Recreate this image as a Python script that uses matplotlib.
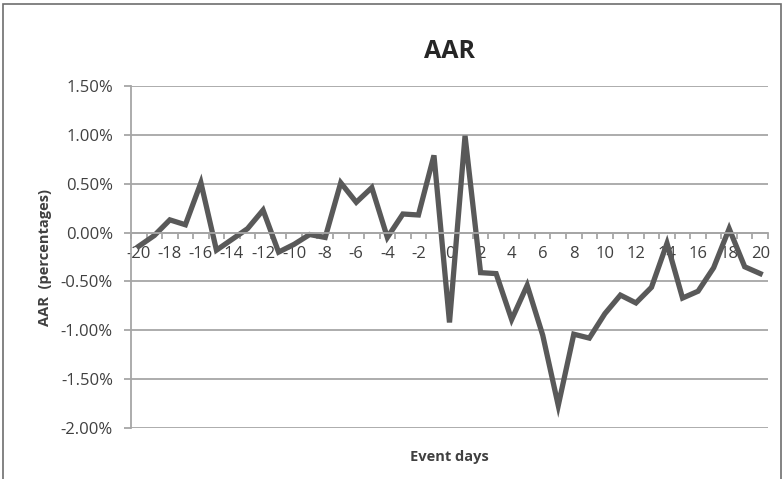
import matplotlib
matplotlib.use('Agg')
import matplotlib.pyplot as plt
from matplotlib.patches import Rectangle
from matplotlib.ticker import FixedLocator, FuncFormatter

days = list(range(-20, 21))
aar = [-0.14, -0.03, 0.13, 0.08, 0.51, -0.18, -0.07, 0.04, 0.23, -0.20,
       -0.12, -0.02, -0.05, 0.51, 0.31, 0.46, -0.05, 0.19, 0.18, 0.79,
       -0.92, 0.99, -0.41, -0.42, -0.89, -0.54, -1.05, -1.77, -1.04, -1.08,
       -0.83, -0.64, -0.72, -0.56, -0.11, -0.67, -0.60, -0.36, 0.04, -0.35,
       -0.42]
y_ticks = [-2.0, -1.5, -1.0, -0.5, 0.0, 0.5, 1.0, 1.5]
x_labels = list(range(-20, 21, 2))

plt.rcParams['font.family'] = ['Open Sans', 'DejaVu Sans']
grey = '#a6a6a6'
txt = '#404040'

fig = plt.figure(figsize=(7.83, 4.79), dpi=100)
ax = fig.add_axes([131/783, 1-428/479, (768-131)/783, (428-86)/479])

ax.plot(days, aar, color='#595959', linewidth=3.8, solid_joinstyle='miter')

ax.set_xlim(-20.5, 20.5)
ax.set_ylim(-2.0, 1.5)
ax.set_yticks(y_ticks)
ax.yaxis.set_major_formatter(FuncFormatter(lambda v, p: '%.2f%%' % v))
ax.yaxis.grid(True, color=grey, linewidth=1.3)
ax.set_axisbelow(True)

for s in ['top', 'right']:
    ax.spines[s].set_visible(False)
ax.spines['left'].set_color(grey)
ax.spines['left'].set_linewidth(1.3)
ax.spines['bottom'].set_position(('data', 0))
ax.spines['bottom'].set_color(grey)
ax.spines['bottom'].set_linewidth(1.3)

# ticks between categories, labels every 2 days
ax.xaxis.set_major_locator(FixedLocator([d + 0.5 for d in range(-21, 21)]))
ax.xaxis.set_major_formatter(FuncFormatter(lambda v, p: ''))
ax.xaxis.set_minor_locator(FixedLocator(x_labels))
ax.xaxis.set_minor_formatter(FuncFormatter(lambda v, p: '%d' % v))
ax.tick_params(axis='x', which='major', direction='out', length=4, width=1.3, color=grey)
ax.tick_params(axis='x', which='minor', length=0, pad=10, labelsize=12, labelcolor=txt)
ax.tick_params(axis='y', direction='out', length=5, width=1.3, color=grey, pad=8,
               labelsize=12, labelcolor=txt)

ax.set_xlabel('Event days', fontsize=10.5, fontweight='bold', color=txt)
ax.xaxis.set_label_coords(0.5, -0.065)
ax.set_ylabel('AAR  (percentages)', fontsize=10.5, fontweight='bold', color=txt, labelpad=6)
ax.set_title('AAR', fontsize=18, fontweight='bold', color='#262626', pad=20)

fig.patches.append(Rectangle((3/783, -0.1), 778/783, 1.1 - 4/479, transform=fig.transFigure,
                             fill=False, edgecolor='#6e6e6e', linewidth=1.2))

fig.savefig('out.png', dpi=100)
